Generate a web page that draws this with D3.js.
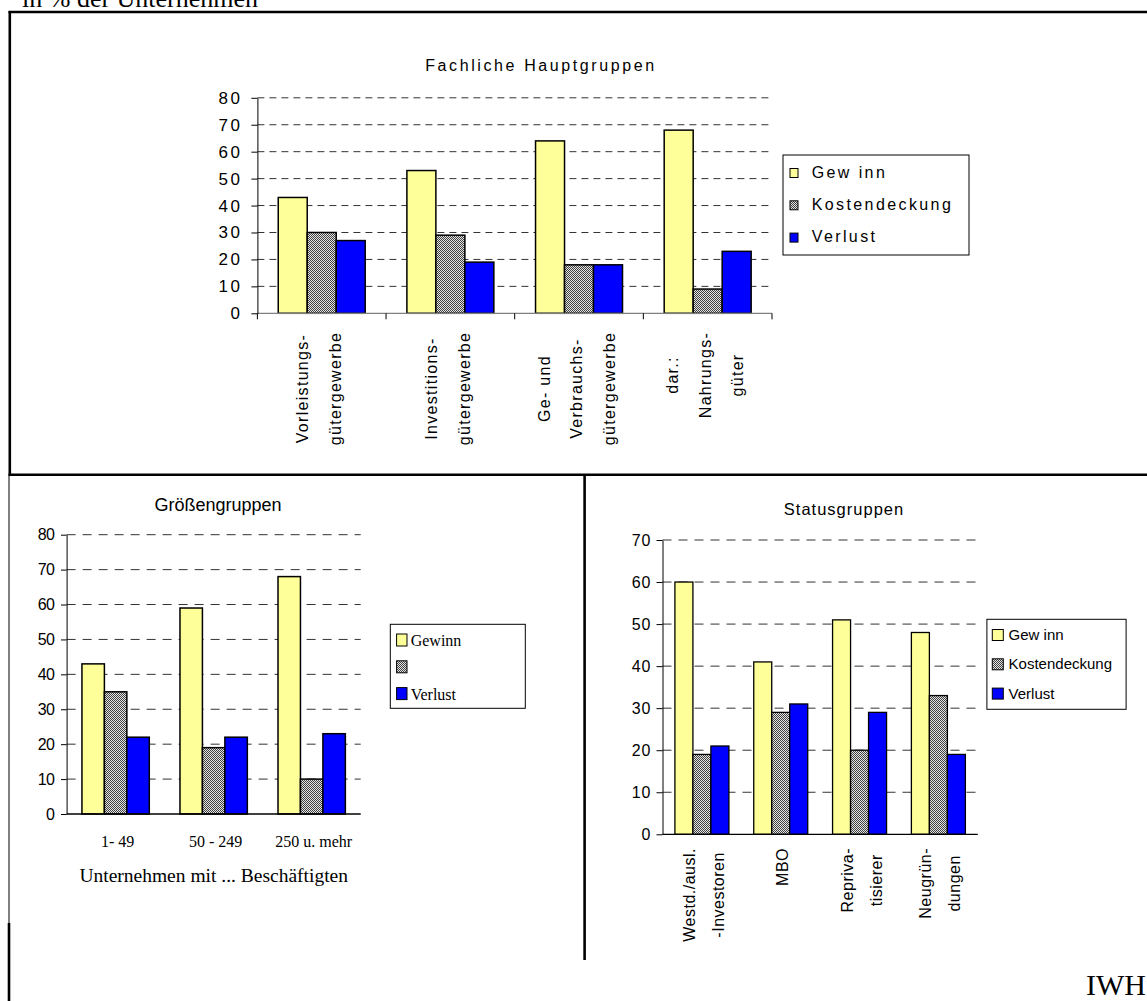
<!DOCTYPE html>
<html><head><meta charset="utf-8">
<script src="https://cdn.jsdelivr.net/npm/d3@7"></script>
<style>body{margin:0;background:#fff} svg{display:block}</style>
</head><body>
<svg id="c" width="1147" height="1001"></svg>
<script>
// ---------- DATA ----------
const seriesNames = ["Gewinn", "Kostendeckung", "Verlust"];

const topTitle = "Fachliche Hauptgruppen";
const topCategories = [["Vorleistungs-","gütergewerbe"],["Investitions-","gütergewerbe"],["Ge- und","Verbrauchs-","gütergewerbe"],["dar.:","Nahrungs-","güter"]];
const topGewinn = [43, 53, 64, 68];
const topKosten = [30, 29, 18, 9];
const topVerlust = [27, 19, 18, 23];
const topTicks = [0,10,20,30,40,50,60,70,80];
const topLegendLabels = ["Gew inn","Kostendeckung","Verlust"];

const sizeTitle = "Größengruppen";
const sizeCategories = ["1- 49","50 - 249","250 u. mehr"];
const sizeGewinn = [43, 59, 68];
const sizeKosten = [35, 19, 10];
const sizeVerlust = [22, 22, 23];
const sizeTicks = [0,10,20,30,40,50,60,70,80];
const sizeAxisTitle = "Unternehmen mit ... Beschäftigten";
const sizeLegendLabels = ["Gewinn","","Verlust"];

const statusTitle = "Statusgruppen";
const statusCategories = [["Westd./ausl.","-Investoren"],["MBO"],["Repriva-","tisierer"],["Neugrün-","dungen"]];
const statusGewinn = [60, 41, 51, 48];
const statusKosten = [19, 29, 20, 33];
const statusVerlust = [21, 31, 29, 19];
const statusTicks = [0,10,20,30,40,50,60,70];
const statusLegendLabels = ["Gew inn","Kostendeckung","Verlust"];

const headerText = "in % der Unternehmen";
const footerText = "IWH";

// ---------- DRAW ----------
const SANS = "'Liberation Sans', Arial, sans-serif";
const SERIF = "'Liberation Serif', 'Times New Roman', serif";
const svg = d3.select("#c");
const defs = svg.append("defs");
const pat = defs.append("pattern").attr("id","chk").attr("width",2).attr("height",2).attr("patternUnits","userSpaceOnUse");
pat.append("rect").attr("width",2).attr("height",2).attr("fill","#e4e4e4");
pat.append("rect").attr("width",1).attr("height",1).attr("fill","#404040");
pat.append("rect").attr("x",1).attr("y",1).attr("width",1).attr("height",1).attr("fill","#404040");
const fills = ["#FFFF99","url(#chk)","#0000FF"];

function chart(o) {
  const g = svg.append("g");
  const x0 = d3.scaleBand().domain(d3.range(o.cats.length)).range(o.xr);
  const bw = x0.bandwidth();
  const x1 = d3.scaleBand().domain(d3.range(3)).range([bw*o.pad/2, bw*(1-o.pad/2)]);
  const y = d3.scaleLinear().domain([0, o.ymax]).range(o.yr);
  g.selectAll(".grid").data(o.ticks.filter(t=>t>0)).join("line")
    .attr("x1", o.xr[0]).attr("x2", o.xr[1])
    .attr("y1", d=>y(d)).attr("y2", d=>y(d))
    .attr("stroke", "#333").attr("stroke-width", 1).attr("stroke-dasharray", o.dash);
  const vals = o.values;
  d3.range(o.cats.length).forEach(i => {
    d3.range(3).forEach(s => {
      const v = vals[s][i];
      g.append("rect")
        .attr("x", x0(i)+x1(s)).attr("y", y(v))
        .attr("width", x1.bandwidth()).attr("height", y(0)-y(v))
        .attr("fill", fills[s]).attr("stroke", "#000").attr("stroke-width", o.barStroke);
    });
  });
  g.append("line").attr("x1", o.xr[0]).attr("x2", o.xr[1]).attr("y1", y(0)).attr("y2", y(0))
    .attr("stroke", o.xAxisColor).attr("stroke-width", 1.3);
  if (o.xTicks) {
    d3.range(o.cats.length+1).forEach(k => {
      const xx = o.xr[0] + k*x0.step();
      g.append("line").attr("x1", xx).attr("x2", xx).attr("y1", y(0)).attr("y2", y(0)+6)
        .attr("stroke", "#000").attr("stroke-width", 1);
    });
  }
  const ax = g.append("g").attr("transform", `translate(${o.xr[0]},0)`)
    .call(d3.axisLeft(y).tickValues(o.ticks).tickSize(o.tickLen).tickSizeOuter(0).tickPadding(o.tickPad).tickFormat(d3.format("d")));
  ax.select(".domain").attr("stroke", "#000");
  ax.selectAll(".tick line").attr("stroke", "#000");
  ax.selectAll("text").attr("font-family", SANS).attr("font-size", o.tickFont).attr("letter-spacing", o.tickLs).attr("fill","#000");
  return {g, x0, y, bw};
}

function rotatedLabels(c, cats, topOff, spacing, baseOff, font, ls) {
  cats.forEach((lines, i) => {
    const gg = c.g.append("g").attr("transform", `translate(${c.x0(i)+c.bw/2},${c.y(0)}) rotate(-90)`);
    const n = lines.length;
    const ts = lines.map((t, j) => gg.append("text").text(t)
      .attr("y", baseOff + (j-(n-1)/2)*spacing)
      .attr("text-anchor", "middle").attr("font-family", SANS).attr("font-size", font).attr("letter-spacing", ls));
    const maxLen = d3.max(ts, t => t.node().getComputedTextLength());
    ts.forEach(t => t.attr("x", -(topOff + maxLen/2)));
  });
}

function legend(box, labels, sq, tx, base0, step, font, family, ls) {
  svg.append("rect").attr("x", box[0]).attr("y", box[1]).attr("width", box[2]).attr("height", box[3])
    .attr("fill", "#fff").attr("stroke", "#000").attr("stroke-width", 1);
  labels.forEach((lab, i) => {
    const b = base0 + i*step;
    svg.append("rect").attr("x", sq[0]).attr("y", b - sq[3]).attr("width", sq[1]).attr("height", sq[2])
      .attr("fill", fills[i]).attr("stroke", "#000").attr("stroke-width", 1);
    svg.append("text").text(lab).attr("x", tx).attr("y", b)
      .attr("font-family", family).attr("font-size", font).attr("letter-spacing", ls);
  });
}

// frame
const fr = svg.append("g").attr("stroke", "#000");
fr.append("line").attr("x1", 8.5).attr("x2", 1147).attr("y1", 12).attr("y2", 12).attr("stroke-width", 2.6);
fr.append("line").attr("x1", 9.8).attr("x2", 9.8).attr("y1", 11).attr("y2", 475).attr("stroke-width", 2.6);
fr.append("line").attr("x1", 8.5).attr("x2", 1147).attr("y1", 474.8).attr("y2", 474.8).attr("stroke-width", 2.6);
fr.append("line").attr("x1", 9).attr("x2", 9).attr("y1", 475).attr("y2", 923).attr("stroke-width", 1);
fr.append("line").attr("x1", 9).attr("x2", 9).attr("y1", 923).attr("y2", 1001).attr("stroke-width", 2.6);
fr.append("line").attr("x1", 584.6).attr("x2", 584.6).attr("y1", 475).attr("y2", 960).attr("stroke-width", 2.6);

svg.append("text").text(headerText).attr("x", 22).attr("y", 7).attr("font-family", SERIF).attr("font-size", 26);
svg.append("text").text(footerText).attr("x", 1086).attr("y", 995).attr("font-family", SERIF).attr("font-size", 30);

// top chart
svg.append("text").text(topTitle).attr("x", 541).attr("y", 71).attr("text-anchor","middle")
  .attr("font-family", SANS).attr("font-size", 16).attr("letter-spacing", 2.6);
const cTop = chart({cats: topCategories, values: [topGewinn, topKosten, topVerlust], xr: [257.4, 772], yr: [313.3, 97.8],
  ymax: 80, ticks: topTicks, pad: 0.324, dash: "7,5", barStroke: 1.5, xAxisColor: "#808080", xTicks: true,
  tickLen: 6, tickPad: 9, tickFont: 17, tickLs: 2.5});
rotatedLabels(cTop, topCategories, 18.5, 32.5, 3, 16, 1.3);
legend([783,155,186,100], topLegendLabels, [790,8,9,9], 811.7, 177.5, 32.3, 16, SANS, 2.4);

// size chart
svg.append("text").text(sizeTitle).attr("x", 218).attr("y", 511).attr("text-anchor","middle")
  .attr("font-family", SANS).attr("font-size", 18).attr("letter-spacing", 0);
const cSize = chart({cats: sizeCategories, values: [sizeGewinn, sizeKosten, sizeVerlust], xr: [66.6, 360.7], yr: [814, 534.7],
  ymax: 80, ticks: sizeTicks, pad: 0.313, dash: "9,7", barStroke: 1.5, xAxisColor: "#000", xTicks: false,
  tickLen: 5.6, tickPad: 6.5, tickFont: 16, tickLs: -0.5});
sizeCategories.forEach((t, i) => {
  cSize.g.append("text").text(t).attr("x", cSize.x0(i)+cSize.bw/2+2).attr("y", 846.7).attr("text-anchor","middle")
    .attr("font-family", SERIF).attr("font-size", 16);
});
svg.append("text").text(sizeAxisTitle).attr("x", 213.7).attr("y", 882).attr("text-anchor","middle")
  .attr("font-family", SERIF).attr("font-size", 19.5);
legend([390.3,624.3,135,84], sizeLegendLabels, [396.6,10.4,12,12], 410.7, 646, 26.8, 16, SERIF, 0);

// status chart
svg.append("text").text(statusTitle).attr("x", 844).attr("y", 515).attr("text-anchor","middle")
  .attr("font-family", SANS).attr("font-size", 16.5).attr("letter-spacing", 1);
const cStat = chart({cats: statusCategories, values: [statusGewinn, statusKosten, statusVerlust], xr: [662.5, 977.8], yr: [834.3, 540],
  ymax: 70, ticks: statusTicks, pad: 0.315, dash: "9,7", barStroke: 1.3, xAxisColor: "#000", xTicks: false,
  tickLen: 6, tickPad: 5.5, tickFont: 16, tickLs: 0.7});
rotatedLabels(cStat, statusCategories, 13.7, 29, 7.5, 16, 0.5);
legend([986.9,619.3,139.2,90], statusLegendLabels, [992.3,11,11,10.5], 1008.6, 640, 29.3, 15, SANS, 0);
</script>
</body></html>
